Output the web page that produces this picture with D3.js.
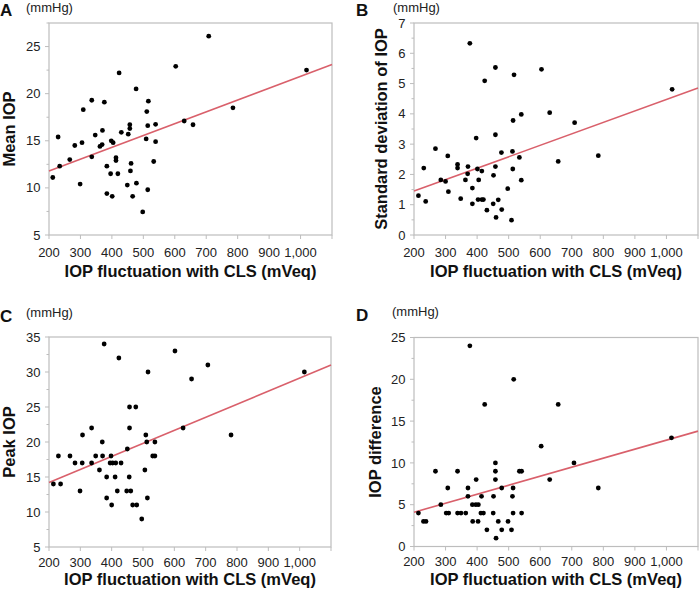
<!DOCTYPE html>
<html>
<head>
<meta charset="utf-8">
<script src="https://cdn.jsdelivr.net/npm/d3@7.9.0/dist/d3.min.js"></script>
<style>
  body { margin: 0; background: #fff; }
  svg { font-family: "Liberation Sans", Arial, sans-serif; }
</style>
</head>
<body>
<svg id="chart" width="699" height="590"></svg>
<script>
// x axis shared by all four panels (IOP fluctuation with CLS, mVeq)
const xTickValues = [200, 300, 400, 500, 600, 700, 800, 900, 1000, 1100];
const xLabelValues = [200, 300, 400, 500, 600, 700, 800, 900, 1000];

// A - mean IOP
const xA = [423,603,477,336,376,309,516,511,457,457,514,539,630,658,430,452,370,347,229,305,
            282,369,362,398,404,509,539,266,336,413,413,234,384,461,533,212,396,419,459,299,
            449,478,514,384,401,466,708,1019,785,498];
const yA = [22.2,22.9,20.5,19.3,19.1,18.3,19.2,18.1,16.7,16.3,16.6,16.75,17.1,16.7,15.9,15.7,16.1,15.6,15.4,14.8,
            14.5,14.6,14.4,15.0,14.8,15.2,14.9,13.0,13.3,13.2,12.9,12.3,12.3,12.6,12.8,11.1,11.5,11.5,11.8,10.4,
            10.3,10.5,9.8,9.4,9.1,9.1,26.1,22.5,18.5,7.45];
const fitA = [11.8, 23.1];          // fitted y at x = 200 and x = 1100
const ticksA = [5, 10, 15, 20, 25];

// B - standard deviation of IOP
const xB = [377,458,517,424,604,630,540,514,397,458,268,307,477,512,534,657,231,338,338,371,
            401,415,458,513,370,452,285,300,363,405,540,385,497,309,214,237,348,403,415,420,
            467,385,451,431,478,460,509,784,1018,709];
const yB = [6.33,5.53,5.29,5.09,5.47,4.04,3.98,3.78,3.2,3.31,2.85,2.61,2.72,2.76,2.56,2.43,2.21,2.33,2.21,2.26,
            2.18,2.11,2.26,2.18,2.02,1.97,1.82,1.77,1.82,1.82,1.81,1.55,1.53,1.43,1.30,1.11,1.2,1.17,1.17,1.17,
            1.16,1.03,1.03,0.82,0.84,0.58,0.49,2.62,4.81,3.71];
const fitB = [1.45, 4.85];
const ticksB = [0, 1, 2, 3, 4, 5, 6, 7];

// C - peak IOP
const xC = [214,237,230,267,283,299,306,307,336,336,349,361,370,371,376,384,384,395,398,400,
            403,411,413,418,423,430,448,450,456,457,457,461,467,477,480,496,506,509,512,514,
            516,531,538,538,602,628,655,707,781,1015];
const yC = [14,14,18,18,17,13,17,21,17,22,18,16,20,18,34,15,12,17,18,11,
            17,15,17,13,32,17,13,19,15,25,22,13,11,25,11,9,16,21,20,12,
            30,18,18,20,33,22,29,31,21,30];
const fitC = [14.2, 31.0];
const ticksC = [5, 10, 15, 20, 25, 30, 35];

// D - IOP difference
const xD = [214,302,310,338,349,364,412,420,451,514,541,
            230,238,386,403,467,498,
            431,478,509,
            460,
            285,385,396,404,
            371,414,452,512,
            307,371,478,514,784,
            397,458,630,
            268,338,458,534,541,
            458,707,
            603,1016,424,657,516,377];
const yD = [4,4,4,4,4,4,4,4,4,4,4,
            3,3,3,3,3,3,
            2,2,2,
            1,
            5,5,5,5,
            6,6,6,6,
            7,7,7,7,7,
            8,8,8,
            9,9,9,9,9,
            10,10,
            12,13,17,17,20,24];
const fitD = [4.1, 13.8];
const ticksD = [0, 5, 10, 15, 20, 25];

const panels = [
  { letter: 'A', title: 'Mean IOP', xs: xA, ys: yA, fit: fitA, ticks: ticksA, minor: 2.5,
    left: 49, top: 23, width: 283, height: 212, yMin: 5, yMax: 27.5,
    tickGap: 22, titleGap: 42, letterY: 16, unitY: 11.5, yTitleX: 15, letterX: 0, unitX: 26 },
  { letter: 'B', title: 'Standard deviation of IOP', xs: xB, ys: yB, fit: fitB, ticks: ticksB, minor: 0.5,
    left: 414, top: 23, width: 284, height: 212, yMin: 0, yMax: 7,
    tickGap: 22, titleGap: 42, letterY: 16, unitY: 11.5, yTitleX: 387, letterX: 356, unitX: 393 },
  { letter: 'C', title: 'Peak IOP', xs: xC, ys: yC, fit: fitC, ticks: ticksC, minor: 2.5,
    left: 49, top: 337, width: 282, height: 210, yMin: 5, yMax: 35,
    tickGap: 19.5, titleGap: 38, letterY: 321.5, unitY: 317, yTitleX: 15, letterX: 0, unitX: 26 },
  { letter: 'D', title: 'IOP difference', xs: xD, ys: yD, fit: fitD, ticks: ticksD, minor: 2.5,
    left: 414, top: 337.5, width: 284, height: 209, yMin: 0, yMax: 25,
    tickGap: 19.5, titleGap: 38, letterY: 321, unitY: 316, yTitleX: 380.5, letterX: 356, unitX: 392 }
];

const svg = d3.select('#chart');
const frameColor = '#bdbdbd';
const fmt = d3.format(',');

panels.forEach(p => {
  const x = d3.scaleLinear().domain([200, 1100]).range([p.left, p.left + p.width]);
  const y = d3.scaleLinear().domain([p.yMin, p.yMax]).range([p.top + p.height, p.top]);
  const bottom = p.top + p.height;
  const g = svg.append('g');

  // panel letter and unit
  g.append('text').attr('x', p.letterX).attr('y', p.letterY)
    .attr('font-size', 17).attr('font-weight', 'bold').attr('fill', '#111').text(p.letter);
  g.append('text').attr('x', p.unitX).attr('y', p.unitY)
    .attr('font-size', 13).attr('fill', '#222').text('(mmHg)');

  // frame
  g.append('rect').attr('x', p.left).attr('y', p.top)
    .attr('width', p.width).attr('height', p.height)
    .attr('fill', 'none').attr('stroke', frameColor).attr('stroke-width', 1.2);

  // y ticks (major + minor)
  p.ticks.forEach(t => {
    g.append('line').attr('x1', p.left - 4).attr('x2', p.left)
      .attr('y1', y(t)).attr('y2', y(t)).attr('stroke', frameColor);
    g.append('text').attr('x', p.left - 8.5).attr('y', y(t) + 4.6)
      .attr('text-anchor', 'end').attr('font-size', 13).attr('fill', '#222').text(t);
    const m = t + p.minor;
    if (m <= p.yMax && !p.ticks.includes(m)) {
      g.append('line').attr('x1', p.left - 2.5).attr('x2', p.left)
        .attr('y1', y(m)).attr('y2', y(m)).attr('stroke', frameColor);
    }
  });

  // x ticks
  xTickValues.forEach(t => {
    g.append('line').attr('x1', x(t)).attr('x2', x(t))
      .attr('y1', bottom).attr('y2', bottom + 4).attr('stroke', frameColor);
  });
  xLabelValues.forEach(t => {
    g.append('text').attr('x', x(t)).attr('y', bottom + p.tickGap)
      .attr('text-anchor', 'middle').attr('font-size', 13).attr('fill', '#222').text(fmt(t));
  });

  // axis titles
  g.append('text').attr('x', p.left + p.width / 2).attr('y', bottom + p.titleGap)
    .attr('text-anchor', 'middle').attr('font-size', 16.5).attr('font-weight', 'bold')
    .attr('fill', '#111').text('IOP fluctuation with CLS (mVeq)');
  g.append('text')
    .attr('transform', `translate(${p.yTitleX},${p.top + p.height / 2}) rotate(-90)`)
    .attr('text-anchor', 'middle').attr('font-size', 16.5).attr('font-weight', 'bold')
    .attr('fill', '#111').text(p.title);

  // regression line
  g.append('line')
    .attr('x1', x(200)).attr('y1', y(p.fit[0]))
    .attr('x2', x(1100)).attr('y2', y(p.fit[1]))
    .attr('stroke', '#d9606b').attr('stroke-width', 1.6);

  // points
  g.selectAll('circle').data(p.xs.map((v, i) => [v, p.ys[i]]))
    .join('circle')
    .attr('cx', d => x(d[0])).attr('cy', d => y(d[1]))
    .attr('r', 2.4).attr('fill', '#000');
});
</script>
</body>
</html>
